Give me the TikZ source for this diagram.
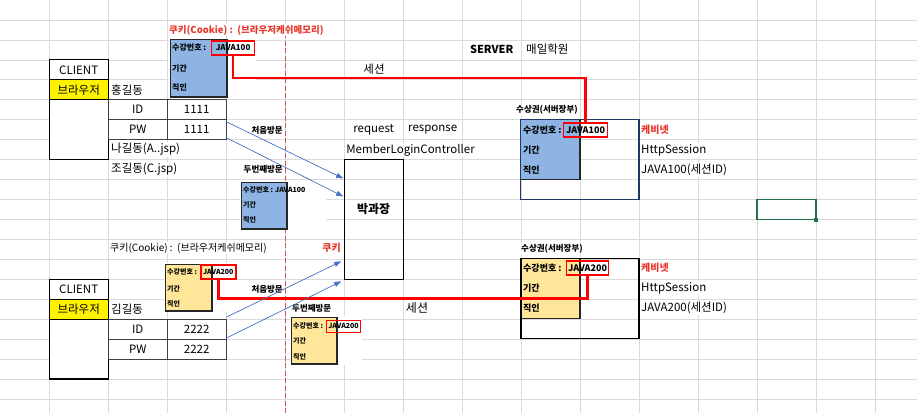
\documentclass[tikz,border=0pt]{standalone}
\usepackage{fontspec}
\newfontfamily\kr{Noto Sans CJK KR}
\usetikzlibrary{arrows.meta, positioning}
\definecolor{cellblue}{HTML}{8DB4E2}
\definecolor{cellgold}{HTML}{FFE699}
\definecolor{gridgray}{HTML}{DADADA}
\definecolor{linkblue}{HTML}{4472C4}
\definecolor{redtxt}{HTML}{E8382C}
\definecolor{navy}{HTML}{1F3864}
\definecolor{excelgreen}{HTML}{217346}
\definecolor{dashred}{HTML}{D9534F}

\begin{document}
\begin{tikzpicture}[x=1pt, y=-1pt,
  gridline/.style={draw=gridgray, line width=0.7pt},
  txt/.style={font=\kr\fontsize{11.5}{13}\selectfont, inner sep=1pt, fill=white},
  lbl/.style={font=\kr\bfseries\fontsize{8.5}{10}\selectfont, inner sep=1pt, fill=white},
  redlbl/.style={lbl, text=redtxt},
  cellbox/.style={draw=black!75, line width=0.8pt, fill=white, outer sep=0pt, inner sep=0pt,
    minimum width=59pt, minimum height=19.95pt, font=\kr\fontsize{11.5}{13}\selectfont},
  clientbox/.style={cellbox, draw=black, line width=1.3pt},
  card/.style={anchor=north west, inner sep=0pt, outer sep=0pt},
  cardedge/.style={draw=black!85, line width=1.6pt},
  cardtxt/.style={font=\kr\bfseries\fontsize{8}{9}\selectfont, inner sep=0pt, anchor=west},
  idbox/.style={cardtxt, draw=red, line width=1.2pt, inner sep=1pt, minimum height=14pt},
  link/.style={draw=linkblue, line width=0.7pt, -{Triangle[length=7pt,width=5pt]}},
  redline/.style={draw=red, line width=2.6pt},
  srvbox/.style={line width=1.2pt, anchor=north west, inner sep=0pt, outer sep=0pt},
]
\useasboundingbox (0,0) rectangle (917,413);
\fill[white] (0,0) rectangle (917,413);

% sheet grid
\foreach \c in {0,...,14}
  \draw[gridline] (49.2+59*\c,0) -- (49.2+59*\c,413);
\foreach \r in {1,...,20}
  \draw[gridline] (0,19.95*\r) -- (917,19.95*\r);

% client / server divider
\coordinate (dtop) at (285.7,33);
\coordinate (dbot) at (285.7,413);
\draw[dashred, line width=1pt, dash pattern=on 5pt off 2.5pt] (dtop) -- (dbot);

% first client
\node[clientbox] (client1) at (78.7,69.8) {CLIENT};
\node[clientbox, fill=yellow, below=0pt of client1] (browser1) {브라우저};
\node[clientbox, below=0pt of browser1, minimum height=59.85pt] (blank1) {};
\node[txt, anchor=west] (hong) at (110,89.8) {홍길동};
\node[cellbox] (id1) at (137.7,109.7) {ID};
\node[cellbox, right=0pt of id1] (id1v) {1111};
\node[cellbox, below=0pt of id1] (pw1) {PW};
\node[cellbox, right=0pt of pw1] (pw1v) {1111};
\node[txt, anchor=west] (na) at (110,149.6) {나길동(A..jsp)};
\node[txt, anchor=west] (jo) at (110,169.5) {조길동(C.jsp)};

% first cookie
\node[redlbl, anchor=west, font=\kr\bfseries\fontsize{9.5}{11}\selectfont] (cookie1) at (168,30) {쿠키(Cookie) :~~(브라우저케쉬메모리)};
\fill[white] (169,38) rectangle (256,98);
\node[card, fill=cellblue, minimum width=57pt, minimum height=58pt] (card1) at (170,39) {};
\draw[cardedge, line width=0.7pt] (card1.south west) rectangle (card1.north east);
\draw[cardedge] (card1.north east) -- (card1.south east) -- (card1.south west);
\node[cardtxt] (c1a) at (172,48) {수강번호 :};
\node[cardtxt] (c1b) at (172,68) {기간};
\node[cardtxt] (c1c) at (172,87) {직인};
\node[idbox, minimum width=43pt] (ck1) at (211,48) {JAVA100};

\node[lbl, anchor=east] (first1) at (284,130) {처음방문};
\node[lbl, anchor=east] (second1) at (284,169) {두번째방문};
\fill[white] (240,181) rectangle (326,230);
\node[card, fill=cellblue, minimum width=46pt, minimum height=47pt] (card2) at (241,182) {};
\draw[cardedge, line width=0.7pt] (card2.south west) rectangle (card2.north east);
\draw[cardedge] (card2.north east) -- (card2.south east) -- (card2.south west);
\node[cardtxt, font=\kr\bfseries\fontsize{7}{8}\selectfont] (c2a) at (243,190) {수강번호 : JAVA100};
\node[cardtxt, font=\kr\bfseries\fontsize{7}{8}\selectfont] (c2b) at (243,205) {기간};
\node[cardtxt, font=\kr\bfseries\fontsize{7}{8}\selectfont] (c2c) at (243,220) {직인};

% controller
\node[txt] (req) at (373.7,129.7) {request};
\node[txt] (resp) at (432.7,129.7) {response};
\node[draw=black, line width=1.3pt, minimum width=59pt, minimum height=119.7pt, inner sep=0pt, outer sep=0pt] (boss) at (373.7,219.45) {};
\node[txt, above right=2pt and 1pt of boss.north west] (ctrl) {MemberLoginController};
\node[txt, font=\kr\bfseries\fontsize{12}{14}\selectfont] (bossname) at (373.7,209) {박과장};
\node[redlbl, anchor=east, font=\kr\bfseries\fontsize{10}{12}\selectfont] (cookiemark) at (342,248) {쿠키};

% server
\node[txt, font=\kr\bfseries\fontsize{11}{13}\selectfont] (server) at (491.7,49.5) {SERVER};
\node[txt, anchor=west] (academy) at (525,49.5) {매일학원};
\node[txt] (sess1) at (374,69) {세션};

\node[lbl, anchor=west] (ticket1) at (515,110) {수상권(서버장부)};
\node[card, fill=cellblue, minimum width=59.5pt, minimum height=59.9pt] (scard1) at (520.5,119.7) {};
\draw[cardedge] (scard1.north east) -- (scard1.south east) -- (scard1.south west);
\node[srvbox, draw=navy, minimum width=118.5pt, minimum height=79.8pt] (srv1) at (520.5,119.7) {};
\node[cardtxt, font=\kr\bfseries\fontsize{9}{10}\selectfont] (s1a) at (523,130) {수강번호 :};
\node[cardtxt, font=\kr\bfseries\fontsize{9}{10}\selectfont] (s1b) at (523,150) {기간};
\node[cardtxt, font=\kr\bfseries\fontsize{9}{10}\selectfont] (s1c) at (523,170) {직인};
\node[idbox, font=\kr\bfseries\fontsize{9}{10}\selectfont, minimum width=44pt] (sv1) at (563,130) {JAVA100};
\node[redlbl, anchor=west, font=\kr\bfseries\fontsize{10}{12}\selectfont] (cab1) at (640,130) {케비넷};
\node[txt, anchor=west] (http1) at (640,150) {HttpSession};
\node[txt, anchor=west] (sid1) at (640,170) {JAVA100(세션ID)};

% selected cell
\node[draw=excelgreen, line width=1.6pt, minimum width=59pt, minimum height=20pt, anchor=north west, inner sep=0pt, outer sep=0pt] (sel) at (757.2,199.5) {};
\node[fill=excelgreen, inner sep=0pt, minimum size=4pt] (selhandle) at (sel.south east) {};

% second client
\node[clientbox] (client2) at (78.7,289.3) {CLIENT};
\node[clientbox, fill=yellow, below=0pt of client2] (browser2) {브라우저};
\node[clientbox, below=0pt of browser2, minimum height=59.85pt] (blank2) {};
\node[txt, anchor=west] (kim) at (110,309.2) {김길동};
\node[cellbox] (id2) at (137.7,329.2) {ID};
\node[cellbox, right=0pt of id2] (id2v) {2222};
\node[cellbox, below=0pt of id2] (pw2) {PW};
\node[cellbox, right=0pt of pw2] (pw2v) {2222};

% second cookie
\node[txt, anchor=west, font=\kr\fontsize{10}{12}\selectfont] (cookie2) at (109,248) {쿠키(Cookie) :~~(브라우저케쉬메모리)};
\fill[white] (164,263) rectangle (237,312);
\node[card, fill=cellgold, minimum width=47pt, minimum height=47pt] (card3) at (165,264) {};
\draw[cardedge, line width=0.7pt] (card3.south west) rectangle (card3.north east);
\draw[cardedge] (card3.north east) -- (card3.south east) -- (card3.south west);
\node[cardtxt, font=\kr\bfseries\fontsize{7}{8}\selectfont] (c3a) at (167,272) {수강번호 :};
\node[cardtxt, font=\kr\bfseries\fontsize{7}{8}\selectfont] (c3b) at (167,289) {기간};
\node[cardtxt, font=\kr\bfseries\fontsize{7}{8}\selectfont] (c3c) at (167,304) {직인};
\node[idbox, font=\kr\bfseries\fontsize{7}{8}\selectfont, minimum width=35pt, line width=1.6pt] (ck2) at (200,272) {JAVA200};

\node[lbl, anchor=east] (first2) at (284,289) {처음방문};
\node[lbl, anchor=west] (second2) at (291,308) {두번째방문};
\fill[white] (290,316) rectangle (362,365);
\node[card, fill=cellgold, minimum width=46pt, minimum height=47pt] (card4) at (291,317) {};
\draw[cardedge, line width=0.7pt] (card4.south west) rectangle (card4.north east);
\draw[cardedge] (card4.north east) -- (card4.south east) -- (card4.south west);
\node[cardtxt, font=\kr\bfseries\fontsize{7}{8}\selectfont] (c4a) at (293,326) {수강번호 :};
\node[cardtxt, font=\kr\bfseries\fontsize{7}{8}\selectfont] (c4b) at (293,341) {기간};
\node[cardtxt, font=\kr\bfseries\fontsize{7}{8}\selectfont] (c4c) at (293,357) {직인};
\node[idbox, font=\kr\bfseries\fontsize{7}{8}\selectfont, minimum width=34pt, minimum height=12pt, line width=1pt] (ck3) at (326,326) {JAVA200};

\node[txt, font=\kr\fontsize{12}{14}\selectfont] (sess2) at (417,308) {세션};

\node[lbl, anchor=west] (ticket2) at (520,249) {수상권(서버장부)};
\node[card, fill=cellgold, minimum width=59pt, minimum height=59.9pt] (scard2) at (521,258.5) {};
\draw[cardedge] (scard2.north east) -- (scard2.south east) -- (scard2.south west);
\node[srvbox, draw=black, minimum width=118pt, minimum height=79.8pt] (srv2) at (521,258.5) {};
\node[cardtxt, font=\kr\bfseries\fontsize{9}{10}\selectfont] (s2a) at (523,268) {수강번호 :};
\node[cardtxt, font=\kr\bfseries\fontsize{9}{10}\selectfont] (s2b) at (523,288) {기간};
\node[cardtxt, font=\kr\bfseries\fontsize{9}{10}\selectfont] (s2c) at (523,308) {직인};
\node[idbox, font=\kr\bfseries\fontsize{9}{10}\selectfont, minimum width=42pt] (sv2) at (566,268) {JAVA200};
\node[redlbl, anchor=west, font=\kr\bfseries\fontsize{10}{12}\selectfont] (cab2) at (640,268) {케비넷};
\node[txt, anchor=west] (http2) at (640,288) {HttpSession};
\node[txt, anchor=west] (sid2) at (640,308) {JAVA200(세션ID)};

% session links
\coordinate (bend1) at (400,78);
\coordinate (bend2) at (400,298.5);
\draw[redline] (ck1.south) |- (bend1) -| (sv1.north);
\draw[redline] (ck2.south) |- (bend2) -| (sv2.south);

% requests
\draw[link] ([yshift=-2pt]pw1v.north east) -- ([xshift=-1pt,yshift=41pt]boss.west);
\draw[link] ([yshift=2pt]pw1v.south east) -- ([xshift=-1pt,yshift=23pt]boss.west);
\draw[link] ([yshift=2pt]id2v.north east) -- ([xshift=-3pt,yshift=18pt]boss.south west);
\draw[link] ([yshift=1pt]pw2v.north east) -- ([xshift=-3pt,yshift=-2pt]boss.south west);

\end{tikzpicture}
\end{document}
